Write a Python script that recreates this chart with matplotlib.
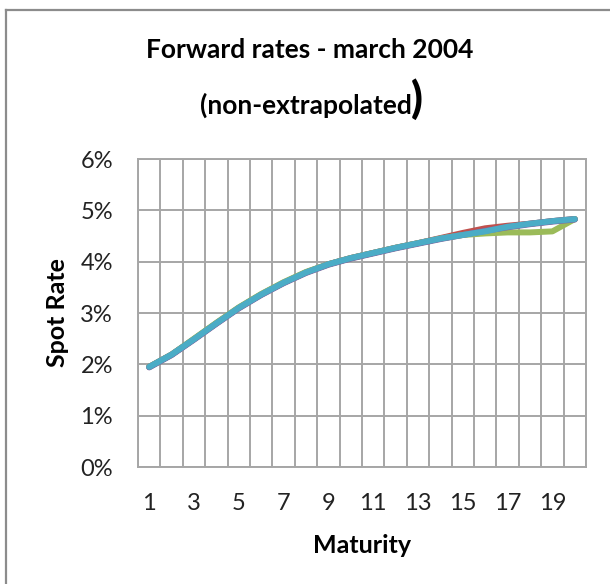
import matplotlib
matplotlib.use('Agg')
import matplotlib.pyplot as plt
from matplotlib.lines import Line2D
from matplotlib.ticker import FuncFormatter, FixedLocator

# Spot rates (%) by maturity (years) for the five fitted curves.
maturity = list(range(1, 21))
curve_1 = [1.95, 2.19, 2.49, 2.80, 3.10, 3.36, 3.59, 3.79, 3.95, 4.07,
           4.17, 4.27, 4.36, 4.45, 4.53, 4.61, 4.68, 4.74, 4.79, 4.83]
curve_2 = [1.95, 2.19, 2.49, 2.80, 3.10, 3.36, 3.59, 3.79, 3.95, 4.07,
           4.17, 4.27, 4.36, 4.46, 4.56, 4.65, 4.70, 4.74, 4.79, 4.83]
curve_3 = [1.95, 2.19, 2.50, 2.81, 3.11, 3.37, 3.60, 3.80, 3.95, 4.07,
           4.17, 4.27, 4.36, 4.45, 4.52, 4.55, 4.57, 4.57, 4.59, 4.83]
curve_4 = [1.94, 2.18, 2.48, 2.79, 3.09, 3.35, 3.58, 3.78, 3.94, 4.06,
           4.16, 4.26, 4.35, 4.44, 4.52, 4.60, 4.67, 4.73, 4.78, 4.82]
curve_5 = [1.95, 2.19, 2.49, 2.80, 3.10, 3.36, 3.59, 3.79, 3.95, 4.07,
           4.17, 4.27, 4.36, 4.45, 4.52, 4.59, 4.68, 4.74, 4.79, 4.83]

curves = [curve_1, curve_2, curve_3, curve_4, curve_5]
colors = ['#4F81BD', '#C0504D', '#9BBB59', '#8064A2', '#4BACC6']

plt.rcParams['font.family'] = ['Lato', 'DejaVu Sans']

fig = plt.figure(figsize=(6.1, 5.84), dpi=100)
ax = fig.add_axes([138 / 610, 1 - 467 / 584, 448 / 610, 308 / 584])

for values, color in zip(curves, colors):
    ax.plot(maturity, [v / 100 for v in values], color=color, lw=4.3,
            solid_capstyle='round', solid_joinstyle='round')

grid = '#A6A6A6'
ax.set_xlim(0.5, 20.5)
ax.set_ylim(0, 0.06)
ax.set_yticks([i / 100 for i in range(7)])
ax.yaxis.set_major_formatter(FuncFormatter(lambda v, _: f'{v * 100:.0f}%'))
ax.set_xticks(maturity[::2])
ax.xaxis.set_minor_locator(FixedLocator([m + 0.5 for m in range(0, 21)]))
ax.grid(axis='y', which='major', color=grid, lw=1.4)
ax.grid(axis='x', which='minor', color=grid, lw=1.4)
ax.set_axisbelow(True)
ax.tick_params(which='both', length=0, labelsize=17, colors='#222222',
               pad=18)
ax.tick_params(axis='x', pad=19)
for side in ax.spines.values():
    side.set_color(grid)
    side.set_linewidth(1.4)

ax.set_xlabel('Maturity', fontsize=18, fontweight='bold', labelpad=14)
ax.set_ylabel('Spot Rate', fontsize=18, fontweight='bold', labelpad=8)

fig.text(310 / 610, 1 - 50 / 584, 'Forward rates - march 2004',
         ha='center', va='center', fontsize=19, fontweight='bold')
fig.text(412 / 610, 1 - 105 / 584, '(non-extrapolated', ha='right',
         va='center', fontsize=19, fontweight='bold')
fig.text(411 / 610, 1 - 99 / 584, ')', ha='left', va='center',
         fontsize=31, fontweight='black')

# outer chart frame (top and left edges only)
fig.add_artist(Line2D([6 / 610, 6 / 610], [0, 1 - 10 / 584],
                      color='#8C8C8C', lw=1.6, transform=fig.transFigure))
fig.add_artist(Line2D([6 / 610, 1], [1 - 10 / 584, 1 - 10 / 584],
                      color='#8C8C8C', lw=1.6, transform=fig.transFigure))

fig.savefig('out.png', dpi=100)
